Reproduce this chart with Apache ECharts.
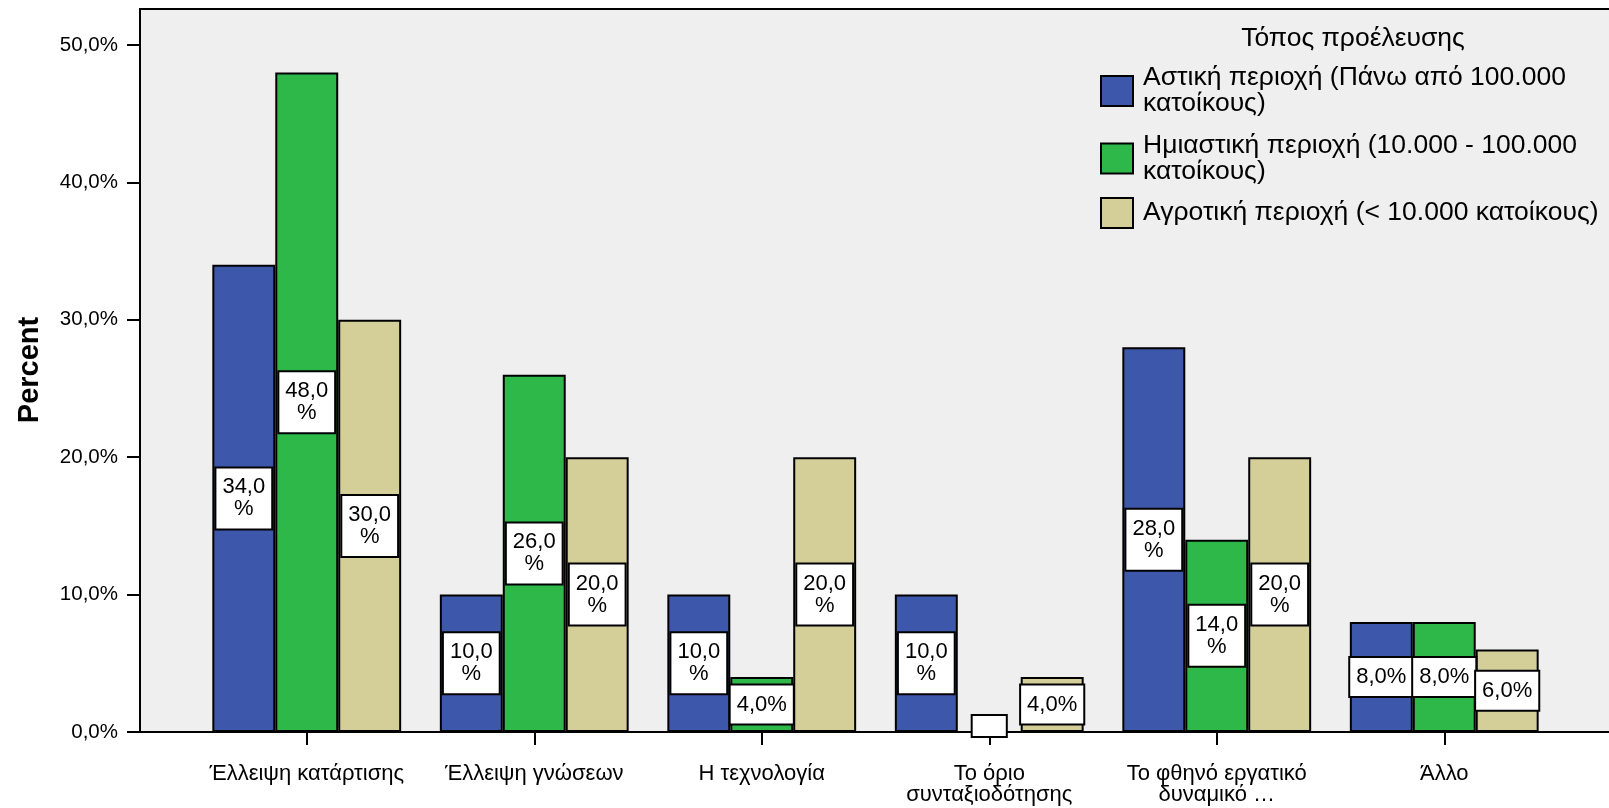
<!DOCTYPE html>
<html>
<head>
<meta charset="utf-8">
<script src="https://cdn.jsdelivr.net/npm/echarts@6/dist/echarts.min.js"></script>
<style>
  html, body { margin: 0; padding: 0; background: #ffffff; }
  #chart { width: 1609px; height: 808px; }
</style>
</head>
<body>
<div id="chart"></div>
<script>
// Reasons (categories) on the x axis
const categories = [
  'Έλλειψη κατάρτισης',
  'Έλλειψη γνώσεων',
  'Η τεχνολογία',
  'Το όριο\nσυνταξιοδότησης',
  'Το φθηνό εργατικό\nδυναμικό …',
  'Άλλο'
];

// Series names (place of origin)
const seriesNames = [
  'Αστική περιοχή (Πάνω από 100.000 κατοίκους)',
  'Ημιαστική περιοχή (10.000 - 100.000 κατοίκους)',
  'Αγροτική περιοχή (< 10.000 κατοίκους)'
];

// Percent values per series
const urbanValues = [34, 10, 10, 10, 28, 8];
const semiUrbanValues = [48, 26, 4, 0, 14, 8];
const ruralValues = [30, 20, 20, 4, 20, 6];

const legendTitle = 'Τόπος προέλευσης';
const yAxisTitle = 'Percent';

const colors = ['#3d58aa', '#2fb84a', '#d4cf99'];
const FONT = '"Liberation Sans", Arial, sans-serif';

function pct(v) {
  return v.toFixed(1).replace('.', ',') + '%';
}

function labelText(v) {
  // wide numbers wrap the percent sign onto a second line
  const s = v.toFixed(1).replace('.', ',');
  return v >= 10 ? s + '\n%' : s + '%';
}

const labelStyle = {
  show: true,
  position: 'inside',
  color: '#000',
  fontFamily: FONT,
  fontSize: 22,
  lineHeight: 22,
  backgroundColor: '#ffffff',
  borderColor: '#000',
  borderWidth: 2,
  padding: [8, 6],
  formatter: p => labelText(p.value)
};

// a zero value still shows an empty label box at the baseline
const zeroLabel = {
  show: true,
  formatter: ' ',
  fontSize: 4,
  lineHeight: 4,
  padding: [8, 16],
  offset: [0, -6]
};

function buildData(values) {
  return values.map(v => (v === 0 ? { value: v, label: zeroLabel } : v));
}

const seriesValues = [urbanValues, semiUrbanValues, ruralValues];

const series = seriesValues.map((vals, i) => ({
  name: seriesNames[i],
  type: 'bar',
  barGap: '0%',
  barCategoryGap: '17%',
  data: buildData(vals),
  itemStyle: { color: colors[i], borderColor: '#000', borderWidth: 2 },
  label: labelStyle,
  emphasis: { disabled: true }
}));

const chart = echarts.init(document.getElementById('chart'), null, { renderer: 'canvas' });

chart.setOption({
  animation: false,
  backgroundColor: '#ffffff',
  textStyle: { fontFamily: FONT },
  title: {
    text: legendTitle,
    left: 1353,
    top: 25,
    padding: 0,
    textAlign: 'center',
    textStyle: { fontFamily: FONT, fontSize: 26.5, fontWeight: 'normal', color: '#000' }
  },
  legend: {
    orient: 'vertical',
    left: 1100,
    top: 61,
    padding: 0,
    icon: 'rect',
    itemWidth: 32,
    itemHeight: 30,
    itemGap: 7.5,
    selectedMode: false,
    data: seriesNames,
    formatter: name => name.replace(' κατοίκους)', '\nκατοίκους)').replace('(< 10.000\nκατοίκους)', '(< 10.000 κατοίκους)'),
    textStyle: { fontFamily: FONT, fontSize: 26.5, lineHeight: 26, color: '#000', padding: [8, 0, 0, 5] }
  },
  graphic: [
    {
      // plot frame with grey background
      type: 'rect',
      z: 0,
      silent: true,
      shape: { x: 140, y: 9, width: 1500, height: 723 },
      style: { fill: '#efefef', stroke: '#000', lineWidth: 2 }
    },
    {
      type: 'text',
      x: 30,
      y: 370,
      rotation: Math.PI / 2,
      silent: true,
      style: {
        text: yAxisTitle,
        font: 'bold 29px ' + FONT,
        fill: '#000',
        textAlign: 'center',
        textVerticalAlign: 'middle'
      }
    }
  ],
  grid: {
    left: 193,
    right: 51,
    top: 45,
    bottom: 76,
    containLabel: false
  },
  xAxis: {
    type: 'category',
    data: categories,
    axisLine: { show: false },
    axisTick: { show: true, alignWithLabel: true, length: 13, lineStyle: { color: '#000', width: 2 } },
    axisLabel: { color: '#000', fontFamily: FONT, fontSize: 22, lineHeight: 21, margin: 31, interval: 0 },
    splitLine: { show: false }
  },
  yAxis: {
    type: 'value',
    min: 0,
    max: 50,
    interval: 10,
    offset: 53,
    axisLine: { show: true, lineStyle: { color: '#000', width: 2 } },
    axisTick: { show: true, inside: false, length: 13, lineStyle: { color: '#000', width: 2 } },
    axisLabel: { color: '#000', fontFamily: FONT, fontSize: 20.5, margin: 22, formatter: v => pct(v) },
    splitLine: { show: false }
  },
  series: series
});
</script>
</body>
</html>
